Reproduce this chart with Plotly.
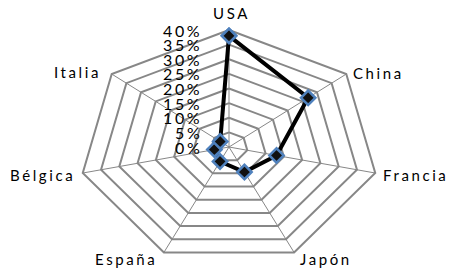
import numpy as np
import plotly.graph_objects as go

# ---- data ----
categories = ["USA", "China", "Francia", "Japón", "España", "Bélgica", "Italia"]
values = [38, 27, 13, 9.5, 5.5, 4, 3]          # percent
tick_values = [0, 5, 10, 15, 20, 25, 30, 35, 40]
tick_labels = ["0%", "5%", "10%", "15%", "20%", "25%", "30%", "35%", "40%"]

# ---- layout constants (pixels) ----
W, H = 459, 269
CX, CY = 229, 147          # centre of the radar in pixels
RX, RY = 150, 117          # pixel radius of the outer ring (horizontal / vertical)
RMAX = tick_values[-1]

n = len(categories)
ang = np.arange(n) * 2 * np.pi / n


def to_xy(r):
    r = np.asarray(r, dtype=float)
    return r * np.sin(ang), r * np.cos(ang)


GRID = "#878787"
FONT = "Lato, 'Liberation Sans', sans-serif"

fig = go.Figure()

# rings
rx, ry = [], []
for t in tick_values[1:]:
    x, y = to_xy([t] * n)
    rx += list(x) + [x[0], None]
    ry += list(y) + [y[0], None]
fig.add_trace(go.Scatter(x=rx, y=ry, mode="lines", line=dict(color=GRID, width=2),
                         hoverinfo="skip", showlegend=False))

# spokes
ox, oy = to_xy([RMAX] * n)
sx, sy = [], []
for i in range(n):
    sx += [0, ox[i], None]
    sy += [0, oy[i], None]
fig.add_trace(go.Scatter(x=sx, y=sy, mode="lines", line=dict(color=GRID, width=1),
                         hoverinfo="skip", showlegend=False))

# data series
dx, dy = to_xy(values)
fig.add_trace(go.Scatter(
    x=list(dx) + [dx[0]], y=list(dy) + [dy[0]], mode="lines+markers",
    line=dict(color="black", width=4),
    marker=dict(symbol="diamond", size=11, color="#111111",
                line=dict(color="#4F81BD", width=2.5)),
    text=categories + [categories[0]],
    customdata=values + [values[0]],
    hovertemplate="%{text}: %{customdata}%<extra></extra>",
    showlegend=False))

# category labels
label_pos = {
    "USA":     dict(xanchor="center", yanchor="bottom", xshift=2, yshift=6),
    "China":   dict(xanchor="left", yanchor="middle", xshift=5, yshift=1),
    "Francia": dict(xanchor="left", yanchor="middle", xshift=6, yshift=-2),
    "Japón":   dict(xanchor="left", yanchor="middle", xshift=4, yshift=-7),
    "España":  dict(xanchor="right", yanchor="middle", xshift=-5, yshift=-7),
    "Bélgica": dict(xanchor="right", yanchor="middle", xshift=-6, yshift=-2),
    "Italia":  dict(xanchor="right", yanchor="middle", xshift=-9, yshift=2),
}
annotations = []
for i, c in enumerate(categories):
    annotations.append(dict(
        x=ox[i], y=oy[i], xref="x", yref="y", showarrow=False,
        text=f'<span style="letter-spacing:2.6px">{c}</span>',
        font=dict(family=FONT, size=15, color="black"), **label_pos[c]))

# radial tick labels
for t, lab in zip(tick_values, tick_labels):
    annotations.append(dict(
        x=0, y=t, xref="x", yref="y", showarrow=False,
        text=f'<span style="letter-spacing:2.6px">{lab}</span>',
        xanchor="right", yanchor="middle", xshift=-25,
        font=dict(family=FONT, size=16, color="black")))

fig.update_layout(
    width=W, height=H, margin=dict(l=0, r=0, t=0, b=0),
    paper_bgcolor="white", plot_bgcolor="white",
    xaxis=dict(range=[-CX / RX * RMAX, (W - CX) / RX * RMAX], visible=False, fixedrange=True),
    yaxis=dict(range=[-(H - CY) / RY * RMAX, CY / RY * RMAX], visible=False, fixedrange=True),
    annotations=annotations,
)

fig.write_html("out.html")
